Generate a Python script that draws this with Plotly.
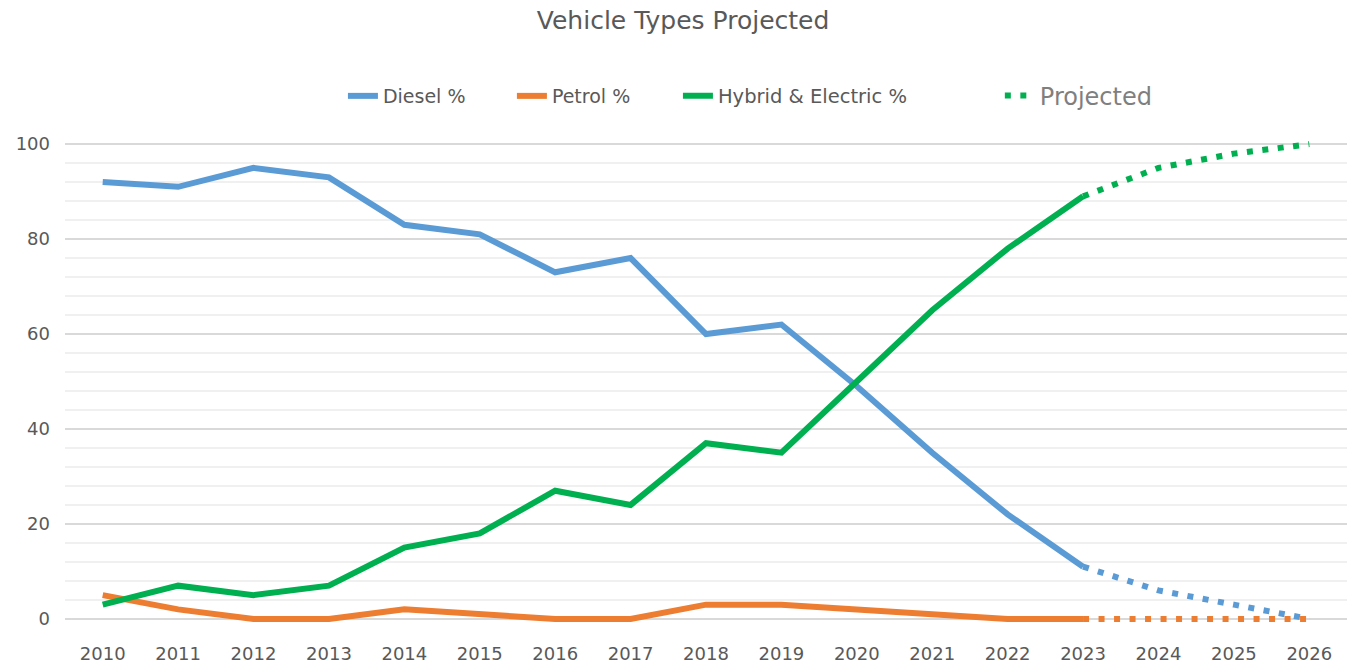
import plotly.graph_objects as go

years = list(range(2010, 2024))
diesel = [92, 91, 95, 93, 83, 81, 73, 76, 60, 62, 49, 35, 22, 11]
petrol = [5, 2, 0, 0, 2, 1, 0, 0, 3, 3, 2, 1, 0, 0]
hybrid = [3, 7, 5, 7, 15, 18, 27, 24, 37, 35, 50, 65, 78, 89]

proj_years = [2023, 2024, 2025, 2026]
diesel_proj = [11, 6, 3, 0]
petrol_proj = [0, 0, 0, 0]
hybrid_proj = [89, 95, 98, 100]

x_ticks = list(range(2010, 2027))
y_ticks = [0, 20, 40, 60, 80, 100]

C_DIESEL = "#5B9BD5"
C_PETROL = "#ED7D31"
C_HYBRID = "#00B050"
FONT = "DejaVu Sans, sans-serif"
TXT = "#595959"
DOT = "6px,9.5px"

fig = go.Figure()
fig.add_trace(go.Scatter(x=years, y=diesel, mode="lines", name="Diesel %",
                         line=dict(color=C_DIESEL, width=6), legend="legend"))
fig.add_trace(go.Scatter(x=years, y=petrol, mode="lines", name="Petrol %",
                         line=dict(color=C_PETROL, width=6), legend="legend2"))
fig.add_trace(go.Scatter(x=years, y=hybrid, mode="lines", name="Hybrid & Electric %",
                         line=dict(color=C_HYBRID, width=6), legend="legend3"))
fig.add_trace(go.Scatter(x=proj_years, y=diesel_proj, mode="lines", showlegend=False,
                         line=dict(color=C_DIESEL, width=6, dash=DOT)))
fig.add_trace(go.Scatter(x=proj_years, y=petrol_proj, mode="lines", showlegend=False,
                         line=dict(color=C_PETROL, width=6, dash=DOT)))
fig.add_trace(go.Scatter(x=proj_years, y=hybrid_proj, mode="lines", name="Projected",
                         line=dict(color=C_HYBRID, width=6, dash=DOT), legend="legend4"))

LEG_Y = 1.0838
leg_common = dict(orientation="h", xanchor="left", y=LEG_Y, yanchor="middle",
                  bgcolor="rgba(0,0,0,0)", borderwidth=0)

fig.update_layout(
    width=1354, height=663,
    margin=dict(l=65, r=7, t=137, b=37, autoexpand=False),
    paper_bgcolor="white", plot_bgcolor="white",
    font=dict(family=FONT, color=TXT, size=17),
    title=dict(text="Vehicle Types Projected", x=0.5045, xref="container", xanchor="center",
               y=1 - 20 / 663, yref="container", yanchor="middle",
               font=dict(family=FONT, size=25, color=TXT)),
    legend=dict(x=0.2168, font=dict(family=FONT, size=19, color=TXT), **leg_common),
    legend2=dict(x=0.3486, font=dict(family=FONT, size=19, color=TXT), **leg_common),
    legend3=dict(x=0.4781, font=dict(family=FONT, size=19.5, color=TXT), **leg_common),
    legend4=dict(x=0.7292, font=dict(family=FONT, size=24, color="#7f7f7f"), **leg_common),
    showlegend=True,
)
fig.update_xaxes(range=[2009.5, 2026.5], tickvals=x_ticks, ticktext=[str(v) for v in x_ticks],
                 showgrid=False, zeroline=False, showline=False, ticks="", automargin=False,
                 tickfont=dict(family=FONT, size=18, color=TXT), ticklabelstandoff=15)
fig.update_yaxes(range=[-1.5, 101.5], tickvals=y_ticks, showgrid=True, gridcolor="#d9d9d9",
                 gridwidth=1.5, zeroline=False, showline=False, ticks="", automargin=False,
                 minor=dict(dtick=4, tick0=0, showgrid=True, gridcolor="#f0f0f0", gridwidth=1.5),
                 tickfont=dict(family=FONT, size=18, color=TXT), ticklabelstandoff=14)

fig.write_html("out.html", config={"displayModeBar": False},
               post_script="document.body.style.margin='0';document.body.style.overflow='hidden';")
